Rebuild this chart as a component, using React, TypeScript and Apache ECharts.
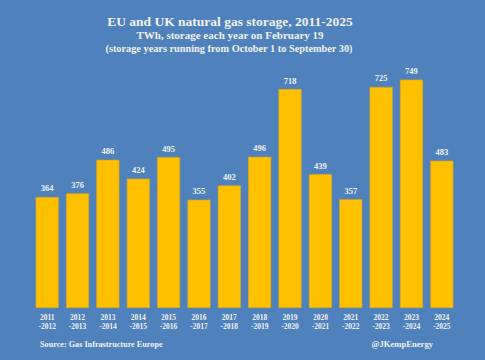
import React, { useEffect, useRef } from "react";
import * as echarts from "echarts";

const categories = [
  "2011\n-2012", "2012\n-2013", "2013\n-2014", "2014\n-2015", "2015\n-2016",
  "2016\n-2017", "2017\n-2018", "2018\n-2019", "2019\n-2020", "2020\n-2021",
  "2021\n-2022", "2022\n-2023", "2023\n-2024", "2024\n-2025",
];
const storageTWh = [364, 376, 486, 424, 495, 355, 402, 496, 718, 439, 357, 725, 749, 483];

const titleText = "EU and UK natural gas storage, 2011-2025";
const subtitle1 = "TWh, storage each year on February 19";
const subtitle2 = "(storage years running from October 1 to September 30)";
const sourceText = "Source: Gas Infrastructure Europe";
const creditText = "@JKempEnergy";

const FONT = "'Liberation Serif', 'DejaVu Serif', serif";
const TEXT = "#f2f2f2";

export default function App() {
  const ref = useRef<HTMLDivElement>(null);
  useEffect(() => {
    if (!ref.current) return;
    const chart = echarts.init(ref.current, null, { renderer: "svg" });
    chart.setOption({
      animation: false,
      backgroundColor: "#4f81bd",
      graphic: [
        { type: "text", x: 230, y: 21, style: { text: titleText, fill: TEXT, font: `bold 13.5px ${FONT}`, textAlign: "center", textVerticalAlign: "middle" } },
        { type: "text", x: 230, y: 35, style: { text: subtitle1, fill: TEXT, font: `bold 11px ${FONT}`, textAlign: "center", textVerticalAlign: "middle" } },
        { type: "text", x: 229, y: 48, style: { text: subtitle2, fill: TEXT, font: `bold 10.3px ${FONT}`, textAlign: "center", textVerticalAlign: "middle" } },
        { type: "text", x: 40, y: 344, style: { text: sourceText, fill: TEXT, font: `bold 8.2px ${FONT}`, textAlign: "left", textVerticalAlign: "middle" } },
        { type: "text", x: 433, y: 344, style: { text: creditText, fill: TEXT, font: `bold 8.6px ${FONT}`, textAlign: "right", textVerticalAlign: "middle" } },
      ],
      grid: { left: 32, right: 28, top: 64, bottom: 52, containLabel: false },
      xAxis: {
        type: "category",
        data: categories,
        axisLine: { show: false },
        axisTick: { show: false },
        axisLabel: { color: TEXT, fontFamily: FONT, fontWeight: "bold", fontSize: 7.5, lineHeight: 9, margin: 5, interval: 0 },
      },
      yAxis: {
        type: "value",
        min: 0,
        max: 800,
        show: false,
        splitLine: { show: false },
      },
      series: [
        {
          type: "bar",
          data: storageTWh,
          barCategoryGap: "24%",
          itemStyle: { color: "#ffc000", borderColor: "#d9a520", borderWidth: 0.7 },
          label: { show: true, position: "top", distance: 4, color: TEXT, fontFamily: FONT, fontWeight: "bold", fontSize: 8.5 },
        },
      ],
    });
    return () => chart.dispose();
  }, []);
  return <div ref={ref} style={{ width: 485, height: 360, position: "fixed", left: 0, top: 0 }} />;
}
